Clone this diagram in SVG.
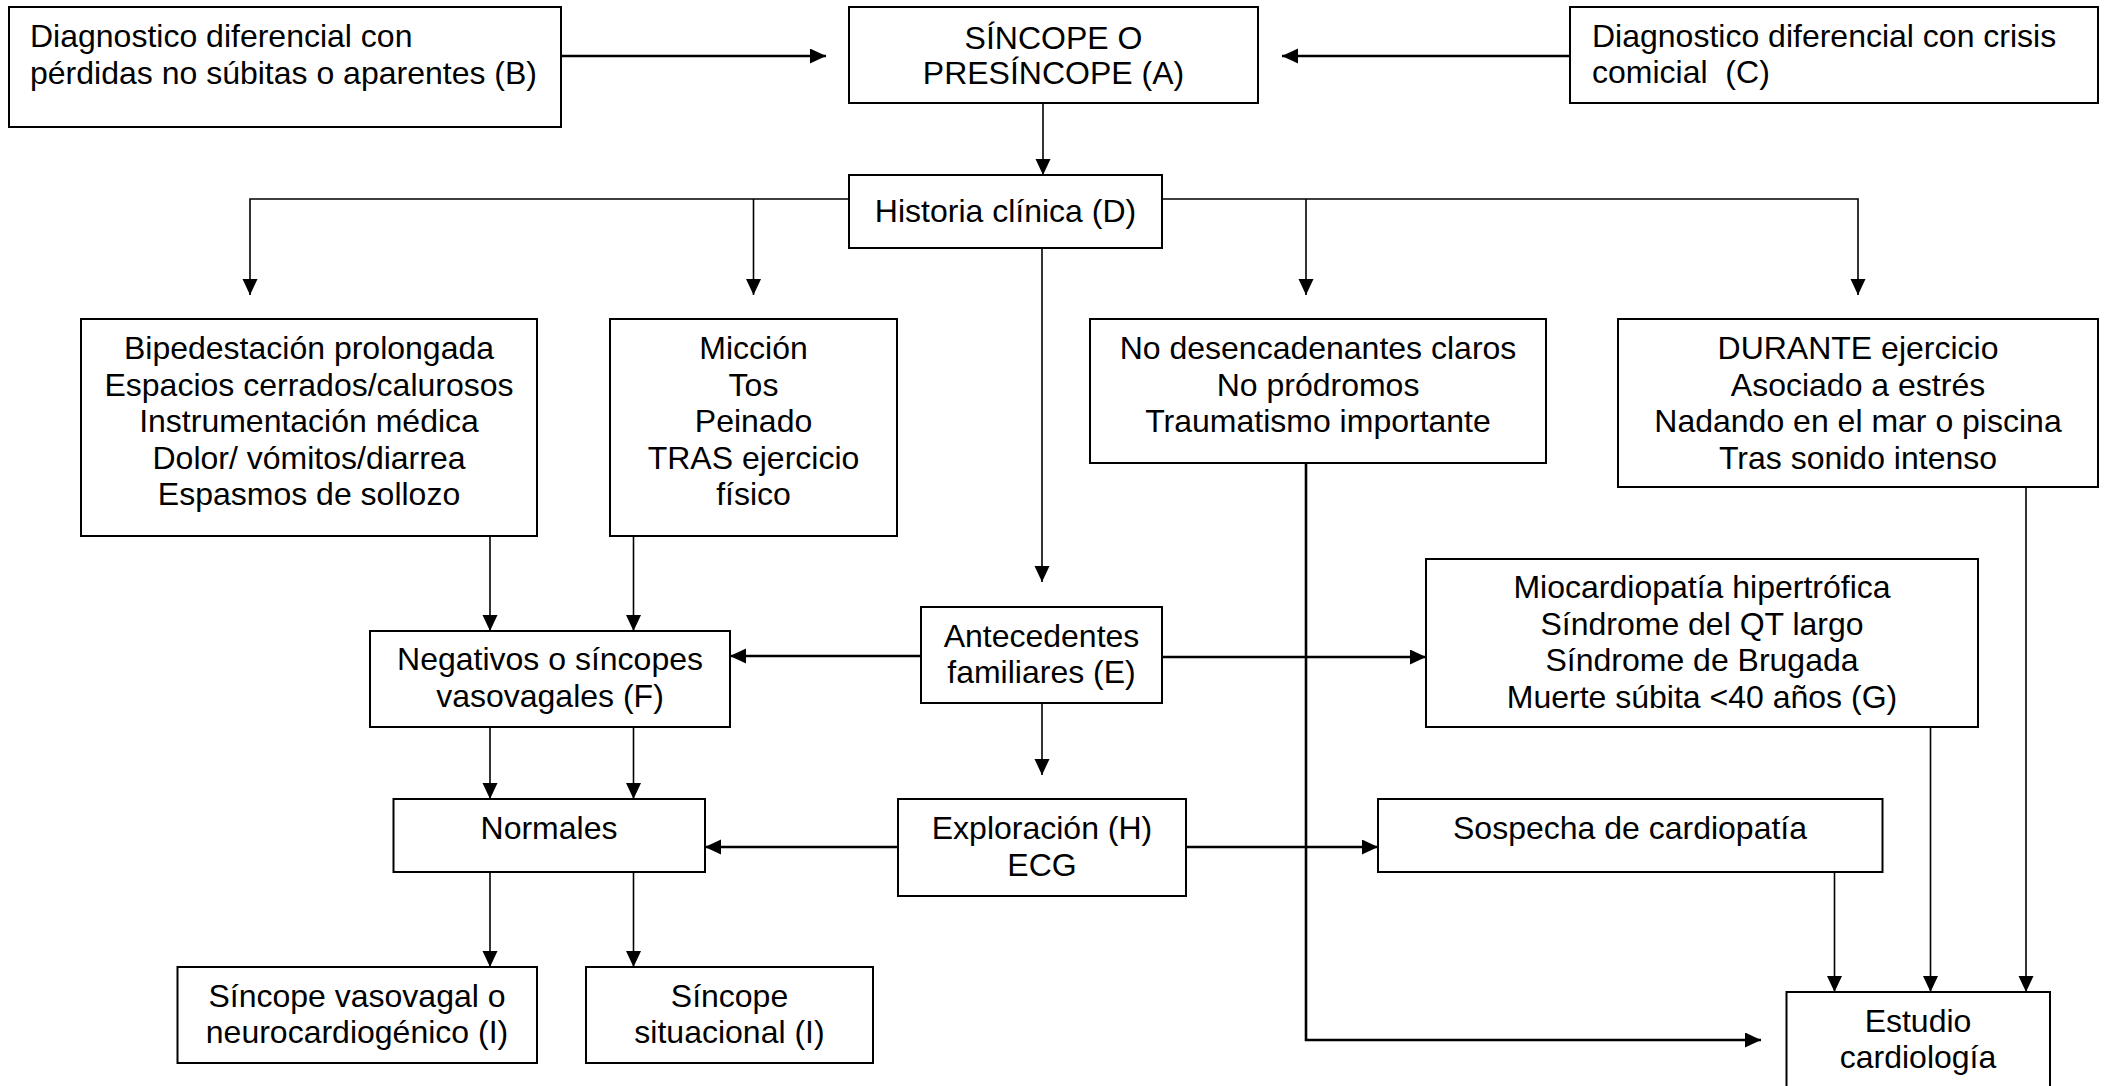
<svg xmlns="http://www.w3.org/2000/svg" width="2107" height="1086" viewBox="0 0 2107 1086">
<style>
.box{fill:#fff;stroke:#000;stroke-width:2}
.t{font-family:"Liberation Sans",Arial,sans-serif;font-size:32px;fill:#000}
.c{text-anchor:middle}
.ln{fill:none;stroke:#000;stroke-width:1.6}
.th{fill:none;stroke:#000;stroke-width:2.6}
</style>
<defs>
<marker id="ah" markerUnits="userSpaceOnUse" markerWidth="16" markerHeight="16" refX="16" refY="7.5" orient="auto">
<path d="M0,0 L16,7.5 L0,15 z" fill="#000"/>
</marker>
</defs>
<rect width="2107" height="1086" fill="#fff"/>
<g id="connectors">
<line class="th" x1="561" y1="56" x2="826" y2="56" marker-end="url(#ah)"/>
<line class="th" x1="1570" y1="56" x2="1282" y2="56" marker-end="url(#ah)"/>
<line class="ln" x1="1043" y1="103" x2="1043" y2="175" marker-end="url(#ah)"/>
<polyline class="ln" points="849,199 250,199 250,295" marker-end="url(#ah)"/>
<line class="ln" x1="753.5" y1="199" x2="753.5" y2="295" marker-end="url(#ah)"/>
<polyline class="ln" points="1162,199 1858,199 1858,295" marker-end="url(#ah)"/>
<line class="ln" x1="1306" y1="199" x2="1306" y2="295" marker-end="url(#ah)"/>
<line class="ln" x1="1042" y1="248" x2="1042" y2="582" marker-end="url(#ah)"/>
<line class="ln" x1="490" y1="536" x2="490" y2="631" marker-end="url(#ah)"/>
<line class="ln" x1="633.5" y1="536" x2="633.5" y2="631" marker-end="url(#ah)"/>
<line class="th" x1="921" y1="656" x2="730" y2="656" marker-end="url(#ah)"/>
<line class="th" x1="1162" y1="657" x2="1426" y2="657" marker-end="url(#ah)"/>
<line class="ln" x1="1042" y1="703" x2="1042" y2="775" marker-end="url(#ah)"/>
<line class="ln" x1="490" y1="727" x2="490" y2="799" marker-end="url(#ah)"/>
<line class="ln" x1="633.5" y1="727" x2="633.5" y2="799" marker-end="url(#ah)"/>
<line class="th" x1="898" y1="847" x2="705" y2="847" marker-end="url(#ah)"/>
<line class="th" x1="1186" y1="847" x2="1378" y2="847" marker-end="url(#ah)"/>
<line class="ln" x1="490" y1="872" x2="490" y2="967" marker-end="url(#ah)"/>
<line class="ln" x1="633.5" y1="872" x2="633.5" y2="967" marker-end="url(#ah)"/>
<polyline class="th" points="1306,463 1306,1040 1761,1040" marker-end="url(#ah)"/>
<line class="ln" x1="1834.5" y1="872" x2="1834.5" y2="992" marker-end="url(#ah)"/>
<line class="ln" x1="1930.5" y1="727" x2="1930.5" y2="992" marker-end="url(#ah)"/>
<line class="ln" x1="2026" y1="487" x2="2026" y2="992" marker-end="url(#ah)"/>
</g>
<g id="nodeB">
<rect class="box" x="9" y="7" width="552" height="120"/>
<text class="t" x="30" y="47">Diagnostico diferencial con</text>
<text class="t" x="30" y="84">pérdidas no súbitas o aparentes (B)</text>
</g>
<g id="nodeA">
<rect class="box" x="849" y="7" width="409" height="96"/>
<text class="t c" x="1053.5" y="49">SÍNCOPE O</text>
<text class="t c" x="1053.5" y="84">PRESÍNCOPE (A)</text>
</g>
<g id="nodeC">
<rect class="box" x="1570" y="7" width="528" height="96"/>
<text class="t" x="1592" y="47">Diagnostico diferencial con crisis</text>
<text class="t" x="1592" y="83">comicial&#160; (C)</text>
</g>
<g id="nodeD">
<rect class="box" x="849" y="175" width="313" height="73"/>
<text class="t c" x="1005.5" y="222">Historia clínica (D)</text>
</g>
<g id="nodeTriggers1">
<rect class="box" x="81" y="319" width="456" height="217"/>
<text class="t c" x="309" y="359">Bipedestación prolongada</text>
<text class="t c" x="309" y="395.6">Espacios cerrados/calurosos</text>
<text class="t c" x="309" y="432.2">Instrumentación médica</text>
<text class="t c" x="309" y="468.8">Dolor/ vómitos/diarrea</text>
<text class="t c" x="309" y="505.4">Espasmos de sollozo</text>
</g>
<g id="nodeTriggers2">
<rect class="box" x="610" y="319" width="287" height="217"/>
<text class="t c" x="753.5" y="359">Micción</text>
<text class="t c" x="753.5" y="395.6">Tos</text>
<text class="t c" x="753.5" y="432.2">Peinado</text>
<text class="t c" x="753.5" y="468.8">TRAS ejercicio</text>
<text class="t c" x="753.5" y="505.4">físico</text>
</g>
<g id="nodeTriggers3">
<rect class="box" x="1090" y="319" width="456" height="144"/>
<text class="t c" x="1318" y="359">No desencadenantes claros</text>
<text class="t c" x="1318" y="395.6">No pródromos</text>
<text class="t c" x="1318" y="432.2">Traumatismo importante</text>
</g>
<g id="nodeTriggers4">
<rect class="box" x="1618" y="319" width="480" height="168"/>
<text class="t c" x="1858" y="359">DURANTE ejercicio</text>
<text class="t c" x="1858" y="395.6">Asociado a estrés</text>
<text class="t c" x="1858" y="432.2">Nadando en el mar o piscina</text>
<text class="t c" x="1858" y="468.8">Tras sonido intenso</text>
</g>
<g id="nodeF">
<rect class="box" x="370" y="631" width="360" height="96"/>
<text class="t c" x="550" y="670">Negativos o síncopes</text>
<text class="t c" x="550" y="707">vasovagales (F)</text>
</g>
<g id="nodeE">
<rect class="box" x="921" y="607" width="241" height="96"/>
<text class="t c" x="1041.5" y="647">Antecedentes</text>
<text class="t c" x="1041.5" y="683">familiares (E)</text>
</g>
<g id="nodeG">
<rect class="box" x="1426" y="559" width="552" height="168"/>
<text class="t c" x="1702" y="598">Miocardiopatía hipertrófica</text>
<text class="t c" x="1702" y="635">Síndrome del QT largo</text>
<text class="t c" x="1702" y="671">Síndrome de Brugada</text>
<text class="t c" x="1702" y="708">Muerte súbita &lt;40 años (G)</text>
</g>
<g id="nodeNormales">
<rect class="box" x="393.5" y="799" width="311.5" height="73"/>
<text class="t c" x="549" y="839">Normales</text>
</g>
<g id="nodeH">
<rect class="box" x="898" y="799" width="288" height="97"/>
<text class="t c" x="1042" y="839">Exploración (H)</text>
<text class="t c" x="1042" y="876">ECG</text>
</g>
<g id="nodeSospecha">
<rect class="box" x="1378" y="799" width="504.5" height="73"/>
<text class="t c" x="1630" y="839">Sospecha de cardiopatía</text>
</g>
<g id="nodeI1">
<rect class="box" x="177.5" y="967" width="359.5" height="96"/>
<text class="t c" x="357" y="1007">Síncope vasovagal o</text>
<text class="t c" x="357" y="1043">neurocardiogénico (I)</text>
</g>
<g id="nodeI2">
<rect class="box" x="586" y="967" width="287" height="96"/>
<text class="t c" x="729.5" y="1007">Síncope</text>
<text class="t c" x="729.5" y="1043">situacional (I)</text>
</g>
<g id="nodeEstudio">
<rect class="box" x="1786.5" y="992" width="263.5" height="110"/>
<text class="t c" x="1918" y="1032">Estudio</text>
<text class="t c" x="1918" y="1068">cardiología</text>
</g>
</svg>
